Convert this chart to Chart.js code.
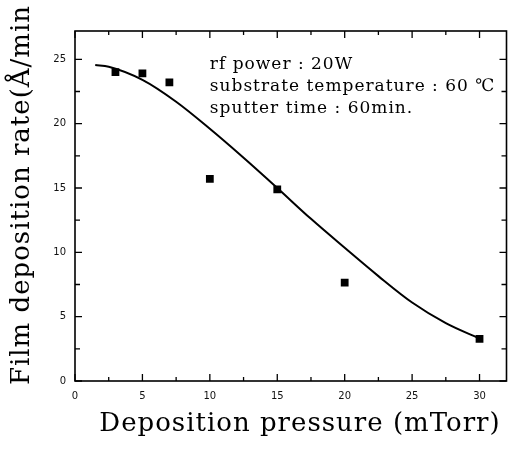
<!DOCTYPE html>
<html>
<head>
<meta charset="utf-8">
<script src="https://cdn.jsdelivr.net/npm/chart.js@4"></script>
<style>
html,body{margin:0;padding:0;background:#fff;}
#wrap{position:relative;width:512px;height:449px;}
</style>
</head>
<body>
<div id="wrap"><canvas id="c" width="512" height="449"></canvas></div>
<script>
// Measured data points (pressure mTorr, rate Å/min)
const pointX = [3, 5, 7, 10, 15, 20, 30];
const pointY = [24.0, 23.9, 23.2, 15.7, 14.9, 7.65, 3.27];
// Fitted curve
const curveX = [1.5, 2.5, 5, 7.5, 10, 12.5, 15, 17.5, 20, 22.5, 25, 27.5, 30];
const curveY = [24.55, 24.42, 23.4, 21.7, 19.6, 17.35, 15.0, 12.6, 10.35, 8.15, 6.1, 4.5, 3.3];
const xTicks = [0, 5, 10, 15, 20, 25, 30];
const yTicks = [0, 5, 10, 15, 20, 25];
const notes = ["rf power : 20W", "substrate temperature : 60 \u2103", "sputter time : 60min."];
const xTitle = "Deposition pressure (mTorr)";
const yTitle = "Film deposition rate(\u00c5/min";

const frame = {
  id: 'frame',
  afterDraw(chart) {
    const {ctx, chartArea: a, scales: {x, y}} = chart;
    ctx.save();
    ctx.strokeStyle = '#000';
    ctx.lineWidth = 1.6;
    ctx.strokeRect(a.left, a.top, a.right - a.left, a.bottom - a.top);
    ctx.lineWidth = 1.3;
    ctx.beginPath();
    xTicks.forEach(v => {
      [v, v + 2.5].forEach((t, i) => {
        if (t > x.max) return;
        const px = x.getPixelForValue(t);
        const L = i === 0 ? 7 : 4;
        ctx.moveTo(px, a.bottom); ctx.lineTo(px, a.bottom - L);
        ctx.moveTo(px, a.top); ctx.lineTo(px, a.top + L);
      });
    });
    yTicks.forEach(v => {
      [v, v + 2.5].forEach((t, i) => {
        if (t > y.max) return;
        const py = y.getPixelForValue(t);
        const L = i === 0 ? 7 : 5;
        ctx.moveTo(a.left, py); ctx.lineTo(a.left + L, py);
        ctx.moveTo(a.right, py); ctx.lineTo(a.right - L, py);
      });
    });
    ctx.stroke();
    // annotation text
    ctx.fillStyle = '#000';
    ctx.font = '17px "DejaVu Serif"';
    ctx.letterSpacing = '1px';
    ctx.textBaseline = 'middle';
    ctx.textAlign = 'left';
    const tx = x.getPixelForValue(10.0);
    const ty = y.getPixelForValue(24.57);
    notes.forEach((s, i) => ctx.fillText(s, tx, ty + i * 22));
    // axis titles
    ctx.font = '26px "DejaVu Serif"';
    ctx.letterSpacing = '1px';
    ctx.textAlign = 'center';
    ctx.fillText(xTitle, 300, 424);
    ctx.translate(22, 195);
    ctx.rotate(-Math.PI / 2);
    ctx.fillText(yTitle, 0, 0);
    ctx.restore();
  }
};

new Chart(document.getElementById('c'), {
  type: 'scatter',
  data: {
    datasets: [
      {
        type: 'line',
        data: curveX.map((v, i) => ({x: v, y: curveY[i]})),
        borderColor: '#000',
        borderWidth: 2,
        pointRadius: 0,
        cubicInterpolationMode: 'monotone',
        fill: false
      },
      {
        data: pointX.map((v, i) => ({x: v, y: pointY[i]})),
        pointStyle: 'rect',
        pointRadius: 5.5,
        backgroundColor: '#000',
        borderColor: '#000',
        borderWidth: 0
      }
    ]
  },
  options: {
    responsive: false,
    animation: false,
    events: [],
    layout: {padding: {top: 31, right: 5, left: 0, bottom: 0}},
    plugins: {legend: {display: false}, tooltip: {enabled: false}},
    scales: {
      x: {
        type: 'linear', min: 0, max: 32,
        afterFit(s) { s.height = 68; },
        grid: {display: false, drawTicks: false},
        border: {display: false},
        ticks: {
          stepSize: 5, includeBounds: false, padding: 9,
          color: '#111', font: {family: '"DejaVu Sans"', size: 10}
        },
        title: {display: false}
      },
      y: {
        type: 'linear', min: 0, max: 27.2,
        afterFit(s) { s.width = 75; },
        grid: {display: false, drawTicks: false},
        border: {display: false},
        ticks: {
          stepSize: 5, includeBounds: false, padding: 9,
          color: '#111', font: {family: '"DejaVu Sans"', size: 10}
        },
        title: {display: false}
      }
    }
  },
  plugins: [frame]
});
</script>
</body>
</html>
